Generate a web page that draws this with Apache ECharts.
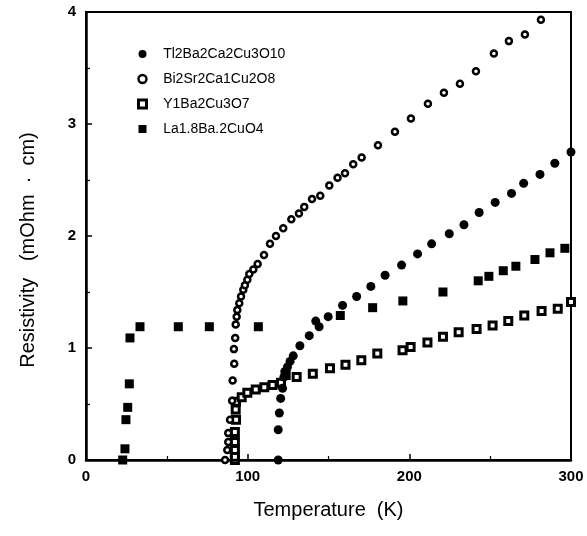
<!DOCTYPE html>
<html>
<head>
<meta charset="utf-8">
<script src="https://cdn.jsdelivr.net/npm/echarts@6/dist/echarts.min.js"></script>
<style>html,body{margin:0;padding:0;background:#fff}#c{width:587px;height:536px}</style>
</head>
<body>
<div id="c"></div>
<script>
var seriesNames = ['Tl2Ba2Ca2Cu3O10', 'Bi2Sr2Ca1Cu2O8', 'Y1Ba2Cu3O7', 'La1.8Ba.2CuO4'];
var xTicks = [0, 100, 200, 300];
var yTicks = [0, 1, 2, 3, 4];

var tlData = [[118.9,0.00],[118.9,0.27],[119.6,0.42],[120.4,0.55],[121.6,0.64],[122.4,0.74],[123.1,0.79],[124.6,0.83],[126.2,0.88],[128.2,0.93],[132.3,1.02],[138.1,1.11],[142.1,1.24],[144.2,1.19],[149.8,1.28],[158.7,1.38],[167.4,1.46],[176.2,1.55],[185.0,1.65],[195.2,1.74],[205.1,1.84],[213.8,1.93],[224.7,2.02],[233.8,2.10],[243.2,2.21],[253.1,2.30],[263.2,2.38],[270.7,2.47],[280.8,2.55],[290.0,2.65],[300.0,2.75]];

var biData = [[86.0,0.00],[87.4,0.09],[88.0,0.16],[88.0,0.24],[89.1,0.36],[90.4,0.53],[90.7,0.71],[91.7,0.86],[91.5,0.99],[92.3,1.09],[92.6,1.21],[93.2,1.28],[93.6,1.34],[94.8,1.40],[95.9,1.46],[97.3,1.52],[98.3,1.56],[99.8,1.61],[101.0,1.66],[103.5,1.70],[106.2,1.75],[110.1,1.83],[113.8,1.93],[117.5,2.00],[122.0,2.07],[127.0,2.15],[131.7,2.20],[135.0,2.26],[139.8,2.33],[144.9,2.36],[150.5,2.45],[155.6,2.52],[160.2,2.56],[165.3,2.64],[170.5,2.70],[180.6,2.81],[191.1,2.93],[201.0,3.05],[211.5,3.18],[221.4,3.28],[231.3,3.36],[241.2,3.47],[252.3,3.63],[261.6,3.74],[271.5,3.80],[281.4,3.93]];

var yData = [[92.1,0.00],[92.1,0.03],[92.1,0.09],[92.1,0.16],[92.1,0.25],[92.8,0.36],[92.6,0.45],[92.8,0.52],[96.3,0.56],[99.8,0.60],[105.0,0.63],[110.3,0.65],[115.4,0.67],[120.6,0.69],[123.5,0.76],[130.3,0.74],[140.3,0.77],[150.9,0.82],[160.5,0.85],[170.3,0.89],[180.2,0.95],[195.8,0.98],[200.8,1.01],[211.2,1.05],[220.8,1.10],[230.5,1.14],[241.6,1.17],[251.5,1.20],[261.2,1.24],[271.1,1.29],[281.8,1.33],[291.8,1.35],[300.0,1.41]];

var laData = [[22.7,0.00],[24.1,0.10],[24.7,0.36],[25.8,0.47],[26.8,0.68],[27.2,1.09],[33.4,1.19],[57.1,1.19],[76.3,1.19],[106.6,1.19],[157.3,1.29],[177.3,1.36],[196.0,1.42],[220.8,1.50],[242.6,1.60],[249.2,1.64],[258.1,1.69],[265.9,1.73],[277.7,1.79],[287.0,1.85],[296.2,1.89]];

var chart = echarts.init(document.getElementById('c'), null, {renderer: 'canvas'});
var font = 'Liberation Sans, Arial, Helvetica, sans-serif';
chart.setOption({
  animation: false,
  backgroundColor: '#fff',
  grid: {left: 86, right: 16, top: 12, bottom: 76, show: true, borderColor: '#000', borderWidth: 2, backgroundColor: 'transparent'},
  legend: {
    orient: 'vertical', left: 132, top: 41,
    itemWidth: 8, itemHeight: 8, itemGap: 9,
    formatter: function (n) { return '   ' + n; },
    textStyle: {fontFamily: font, fontSize: 14, color: '#000', lineHeight: 16},
    data: [
      {name: seriesNames[0], icon: 'circle'},
      {name: seriesNames[1], icon: 'circle', itemStyle: {borderWidth: 2.4}},
      {name: seriesNames[2], icon: 'rect', itemStyle: {borderWidth: 3}},
      {name: seriesNames[3], icon: 'rect'}
    ]
  },
  xAxis: {
    type: 'value', min: xTicks[0], max: xTicks[xTicks.length - 1], interval: 100,
    name: 'Temperature  (K)', nameLocation: 'middle', nameGap: 40,
    nameTextStyle: {fontFamily: font, fontSize: 20, color: '#000'},
    axisLine: {show: true, lineStyle: {color: '#000', width: 2.5}},
    axisTick: {show: true, inside: true, length: 6, lineStyle: {color: '#000', width: 1.5}},
    minorTick: {show: true, splitNumber: 2, length: 4, lineStyle: {color: '#000', width: 1.2}},
    axisLabel: {margin: 9, fontFamily: font, fontSize: 15, fontWeight: 'bold', color: '#000'},
    splitLine: {show: false}
  },
  yAxis: {
    type: 'value', min: yTicks[0], max: yTicks[yTicks.length - 1], interval: 1,
    name: 'Resistivity   (mOhm  ·  cm)', nameLocation: 'middle', nameGap: 48, nameRotate: 90,
    nameTextStyle: {fontFamily: font, fontSize: 20, color: '#000', padding: [0, 28, 0, 0]},
    axisLine: {show: true, lineStyle: {color: '#000', width: 2.5}},
    axisTick: {show: true, inside: true, length: 6, lineStyle: {color: '#000', width: 1.5}},
    minorTick: {show: true, splitNumber: 2, length: 4, lineStyle: {color: '#000', width: 1.2}},
    axisLabel: {margin: 10, fontFamily: font, fontSize: 15, fontWeight: 'bold', color: '#000'},
    splitLine: {show: false}
  },
  series: [
    {name: seriesNames[3], type: 'scatter', data: laData, symbol: 'rect', symbolSize: 9,
     itemStyle: {color: '#000', borderColor: '#000', borderWidth: 0, opacity: 1}},
    {name: seriesNames[2], type: 'scatter', data: yData, symbol: 'rect', symbolSize: 7,
     itemStyle: {color: '#fff', borderColor: '#000', borderWidth: 3, opacity: 1}},
    {name: seriesNames[1], type: 'scatter', data: biData, symbol: 'circle', symbolSize: 6,
     itemStyle: {color: '#fff', borderColor: '#000', borderWidth: 2.5, opacity: 1}},
    {name: seriesNames[0], type: 'scatter', data: tlData, symbol: 'circle', symbolSize: 9,
     itemStyle: {color: '#000', borderColor: '#000', borderWidth: 0, opacity: 1}}
  ]
});
</script>
</body>
</html>
